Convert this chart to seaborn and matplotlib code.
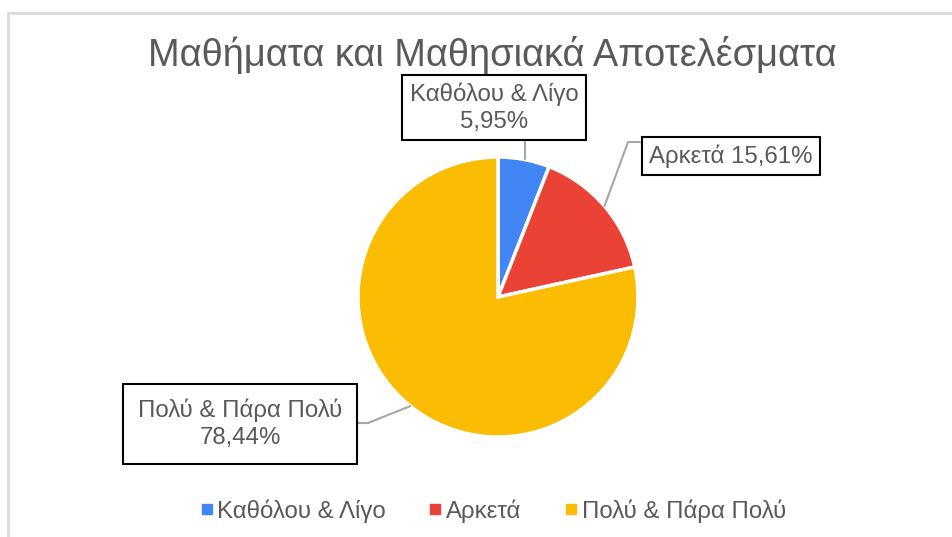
import numpy as np
import seaborn as sns
import matplotlib.pyplot as plt
from matplotlib.lines import Line2D
from matplotlib.patches import Rectangle

# data
categories = ['Καθόλου & Λίγο', 'Αρκετά', 'Πολύ & Πάρα Πολύ']
values = [5.95, 15.61, 78.44]
label_texts = ['Καθόλου & Λίγο\n5,95%', 'Αρκετά 15,61%', 'Πολύ & Πάρα Πολύ\n78,44%']
colors = ['#4285F4', '#EA4335', '#FBBC04']
title = 'Μαθήματα και Μαθησιακά Αποτελέσματα'

sns.set_theme(style='white')
plt.rcParams['font.family'] = ['Liberation Sans', 'DejaVu Sans']
text_col = '#595959'

W, H = 952, 537
fig = plt.figure(figsize=(W / 100, H / 100), dpi=100)
ax = fig.add_axes([0, 0, 1, 1])

# light chart border (top and left visible)
fig.patches.append(Rectangle((8 / W, -0.1), 1.2, (H - 13) / H + 0.1,
                             transform=fig.transFigure, fill=False,
                             edgecolor='#d9d9d9', lw=2, zorder=0))

cx, cy, r = 498, H - 297, 140
wedges, _ = ax.pie(values, colors=colors, startangle=90, counterclock=False,
                   center=(cx, cy), radius=r, frame=True,
                   wedgeprops=dict(edgecolor='white', linewidth=2.5))
ax.set_xlim(0, W)
ax.set_ylim(0, H)
ax.set_aspect('equal')
ax.axis('off')

# label layout: (elbow point, end point, text centre, pad) in pixels from top-left
layout = [
    (None, (525, 140), (494, 107.5), 0.3),
    ((628, 142), (640, 142), (731, 156), 0.3),
    ((368, 423), (357, 423), (240, 424), 0.62),
]

for w, txt, (elbow, end, tc, pad) in zip(wedges, label_texts, layout):
    ang = np.deg2rad((w.theta1 + w.theta2) / 2)
    ex, ey = cx + r * np.cos(ang), cy + r * np.sin(ang)
    pts = [(ex, ey)]
    if elbow is not None:
        pts.append((elbow[0], H - elbow[1]))
    else:
        pts[0] = (end[0], ey)
    pts.append((end[0], H - end[1]))
    xs, ys = zip(*pts)
    ax.plot(xs, ys, color='#a6a6a6', lw=1.5, zorder=1)
    ax.text(tc[0], H - tc[1], txt, ha='center', va='center', fontsize=17.3,
            color=text_col, linespacing=1.3, zorder=3,
            bbox=dict(boxstyle=f'square,pad={pad}', facecolor='white',
                      edgecolor='black', lw=1.5))

fig.text(492 / W, 1 - 55 / H, title, ha='center', va='center',
         fontsize=27.4, color=text_col)

handles = [Line2D([], [], marker='s', linestyle='', markersize=7,
                  markerfacecolor=c, markeredgecolor=c) for c in colors]
fig.legend(handles, categories, loc='center', ncol=3,
           bbox_to_anchor=(492 / W, 1 - 511 / H), frameon=False,
           fontsize=17.3, labelcolor=text_col, handletextpad=0.1,
           columnspacing=1.7, handlelength=0.7)

fig.savefig('out.png', dpi=100, facecolor='white')
